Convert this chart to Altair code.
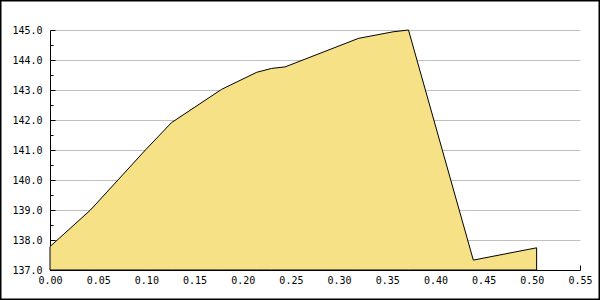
import altair as alt
import pandas as pd

xs = [0.0, 0.042, 0.099, 0.126, 0.178, 0.2145, 0.230, 0.244, 0.320, 0.356, 0.372, 0.4393, 0.505]
ys = [137.78, 139.0, 141.0, 141.91, 143.02, 143.59, 143.72, 143.77, 144.72, 144.94, 145.0, 137.33, 137.74]

x_ticks = [round(i * 0.05, 2) for i in range(12)]
y_ticks = [137, 138, 139, 140, 141, 142, 143, 144, 145]
y_minor = [137.5, 138.5, 139.5, 140.5, 141.5, 142.5, 143.5, 144.5]
y_base = 137

df = pd.DataFrame({"x": xs, "y": ys})

W, H = 530, 240
xscale = alt.Scale(domain=[0, 0.55], nice=False, zero=False)
yscale = alt.Scale(domain=[137, 145], nice=False, zero=False)

area = alt.Chart(df).mark_area(
    color="#F6E186", fill="#F6E186", stroke="black", strokeWidth=1, fillOpacity=1
).encode(
    x=alt.X("x:Q", scale=xscale, axis=alt.Axis(
        orient="bottom", values=x_ticks, format=".2f", ticks=False, tickSize=0,
        domain=True, domainColor="black", grid=False, labelPadding=5,
        labelFlush=False, labelOverlap=False, title=None)),
    y=alt.Y("y:Q", scale=yscale, axis=alt.Axis(
        orient="left", values=y_ticks, format=".1f", ticks=False, tickSize=0,
        domain=True, domainColor="black", grid=True, gridColor="#C0C0C0",
        labelPadding=8, labelFlush=False, labelOverlap=False, title=None)),
    y2=alt.datum(y_base),
)

inner_ticks = alt.Chart(df).mark_point(opacity=0).encode(
    x=alt.X("x:Q", scale=xscale, axis=alt.Axis(
        orient="top", offset=-H, values=x_ticks, ticks=True, tickSize=5,
        tickColor="black", labels=False, domain=False, grid=False, title=None)),
    y=alt.Y("y:Q", scale=yscale, axis=alt.Axis(
        orient="right", offset=-W, values=y_ticks, ticks=True, tickSize=5,
        tickColor="black", labels=False, domain=False, grid=False, title=None)),
)

minor_ticks = alt.Chart(df).mark_point(opacity=0).encode(
    x=alt.X("x:Q", scale=xscale, axis=None),
    y=alt.Y("y:Q", scale=yscale, axis=alt.Axis(
        orient="right", offset=-W, values=y_minor, ticks=True, tickSize=3,
        tickColor="black", labels=False, domain=False, grid=False, title=None)),
)

frame = alt.Chart(alt.Data(values=[{}])).mark_rect(
    fill=None, fillOpacity=0, stroke="black", strokeWidth=1.5
).encode(
    x=alt.value(-49.25), x2=alt.value(549.25),
    y=alt.value(-29.25), y2=alt.value(269.25),
)

chart = alt.layer(area, inner_ticks, minor_ticks, frame).resolve_axis(
    x="independent", y="independent"
).properties(
    width=W, height=H,
    autosize=alt.AutoSizeParams(type="none"),
    padding={"left": 50, "top": 30, "right": 20, "bottom": 30},
    background="white",
).configure_view(stroke=None).configure_axis(
    labelFont="DejaVu Sans Mono", labelFontSize=10, labelColor="black",
)

chart.save("out.html", embed_options={"renderer": "svg", "actions": False})
